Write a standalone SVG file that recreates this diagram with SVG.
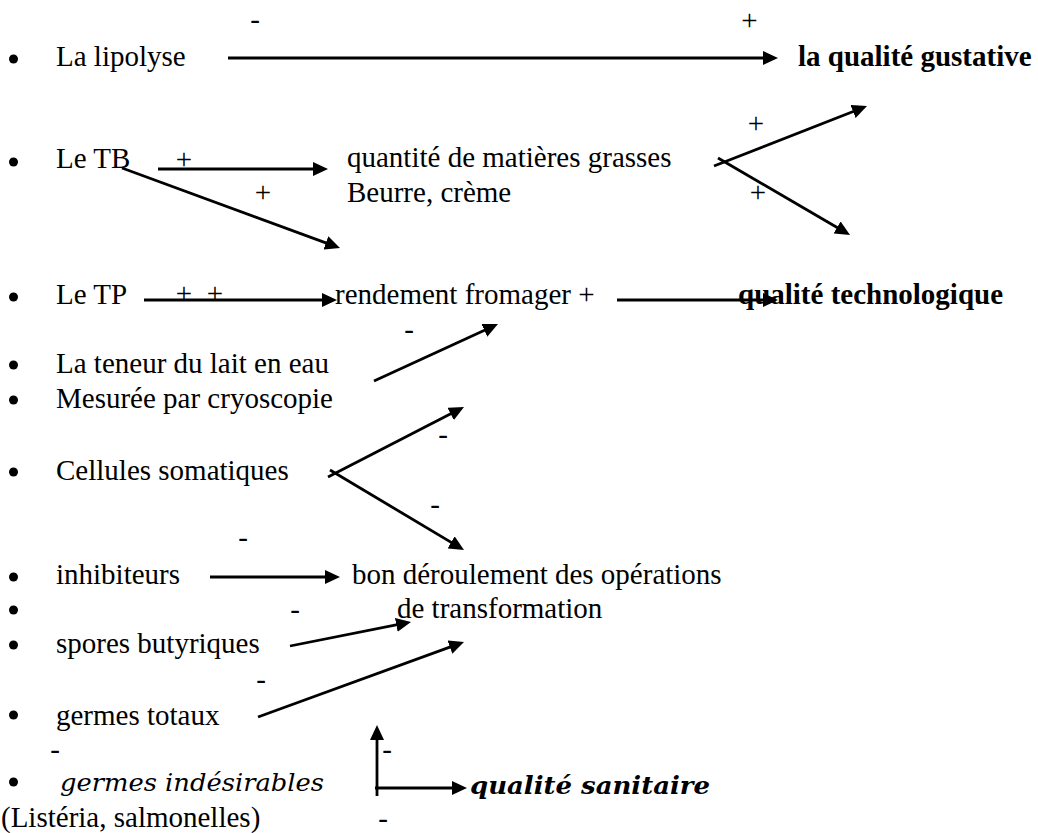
<svg xmlns="http://www.w3.org/2000/svg" width="1038" height="833" viewBox="0 0 1038 833">
<style>
.t{font-family:"Liberation Serif","Times New Roman",serif;font-size:29px;fill:#000}
.b{font-weight:bold}
.s{text-anchor:middle}
.m{font-family:"DejaVu Serif","Liberation Serif",serif;font-style:italic;fill:#000}
.c{stroke:#000;stroke-width:2.8;fill:none;marker-end:url(#ah)}
.dot{fill:#000}
</style>
<defs>
<marker id="ah" viewBox="0 0 15 14" refX="5" refY="7" markerWidth="15" markerHeight="14" markerUnits="userSpaceOnUse" orient="auto">
<path d="M0,0 L15,7 L0,14 z" fill="#000"/>
</marker>
</defs>
<rect width="1038" height="833" fill="#fff"/>

<g id="bullets">
<circle class="dot" cx="13.5" cy="59" r="4.5"/>
<circle class="dot" cx="13.5" cy="162" r="4.5"/>
<circle class="dot" cx="13.5" cy="297" r="4.5"/>
<circle class="dot" cx="13.5" cy="365" r="4.5"/>
<circle class="dot" cx="13.5" cy="400" r="4.5"/>
<circle class="dot" cx="13.5" cy="472" r="4.5"/>
<circle class="dot" cx="13.5" cy="577" r="4.5"/>
<circle class="dot" cx="13.5" cy="610" r="4.5"/>
<circle class="dot" cx="13.5" cy="645" r="4.5"/>
<circle class="dot" cx="13.5" cy="715" r="4.5"/>
<circle class="dot" cx="13.5" cy="782" r="4.5"/>
</g>

<g id="lipolyse"><text class="t" x="56" y="66">La lipolyse</text></g>
<g id="qualite-gustative"><text class="t b" x="798" y="66">la qualité gustative</text></g>
<g id="tb"><text class="t" x="56" y="168">Le TB</text></g>
<g id="matieres-grasses"><text class="t" x="347" y="167">quantité de matières grasses</text><text class="t" x="347" y="202">Beurre, crème</text></g>
<g id="tp"><text class="t" x="56" y="304">Le TP</text></g>
<g id="rendement"><text class="t" x="335" y="304">rendement fromager +</text></g>
<g id="qualite-technologique"><text class="t b" x="738" y="304">qualité technologique</text></g>
<g id="teneur"><text class="t" x="56" y="373">La teneur du lait en eau</text></g>
<g id="cryoscopie"><text class="t" x="56" y="408">Mesurée par cryoscopie</text></g>
<g id="cellules"><text class="t" x="56" y="480">Cellules somatiques</text></g>
<g id="inhibiteurs"><text class="t" x="56" y="584">inhibiteurs</text></g>
<g id="deroulement"><text class="t" x="352" y="584">bon déroulement des opérations</text><text class="t" x="397" y="618">de transformation</text></g>
<g id="spores"><text class="t" x="56" y="653">spores butyriques</text></g>
<g id="germes-totaux"><text class="t" x="56" y="725">germes totaux</text></g>
<g id="germes-indesirables"><text class="m" x="60" y="791" font-size="25" textLength="264" lengthAdjust="spacingAndGlyphs">germes indésirables</text><text class="t" x="1" y="827">(Listéria, salmonelles)</text></g>
<g id="qualite-sanitaire"><text class="m" x="470" y="794" font-size="25" font-weight="bold" textLength="240" lengthAdjust="spacingAndGlyphs">qualité sanitaire</text></g>

<g id="signs">
<text class="t s" x="255" y="28.5">-</text>
<text class="t s" x="749.5" y="30">+</text>
<text class="t s" x="184" y="169">+</text>
<text class="t s" x="263" y="202">+</text>
<text class="t s" x="756" y="133">+</text>
<text class="t s" x="758" y="202">+</text>
<text class="t s" x="184" y="303">+</text>
<text class="t s" x="215" y="303">+</text>
<text class="t s" x="409" y="338.5">-</text>
<text class="t s" x="443" y="443.5">-</text>
<text class="t s" x="435" y="513.5">-</text>
<text class="t s" x="243" y="546.5">-</text>
<text class="t s" x="295" y="618.5">-</text>
<text class="t s" x="261" y="688.5">-</text>
<text class="t s" x="55" y="758.5">-</text>
<text class="t s" x="387" y="758.5">-</text>
<text class="t s" x="383" y="827.5">-</text>
</g>

<g id="connectors">
<line class="c" x1="228" y1="58" x2="768" y2="58"/>
<line class="c" x1="158" y1="169" x2="318" y2="169"/>
<line class="c" x1="122" y1="168" x2="330.6" y2="244.6"/>
<line class="c" x1="714" y1="166" x2="857.7" y2="109.7"/>
<line class="c" x1="718" y1="158" x2="841.4" y2="230"/>
<line class="c" x1="144" y1="300" x2="327" y2="300"/>
<line class="c" x1="617" y1="300" x2="768" y2="300"/>
<line class="c" x1="374" y1="381" x2="488.9" y2="328.2"/>
<line class="c" x1="328" y1="477" x2="455.1" y2="411.6"/>
<line class="c" x1="330" y1="470" x2="455.4" y2="544.9"/>
<line class="c" x1="210" y1="577" x2="330" y2="577"/>
<line class="c" x1="290" y1="646" x2="401.2" y2="623.9"/>
<line class="c" x1="258" y1="717" x2="454.6" y2="645.4"/>
<line class="c" x1="377" y1="796" x2="377" y2="735"/>
<line class="c" x1="375" y1="788" x2="457" y2="788"/>
</g>
</svg>
